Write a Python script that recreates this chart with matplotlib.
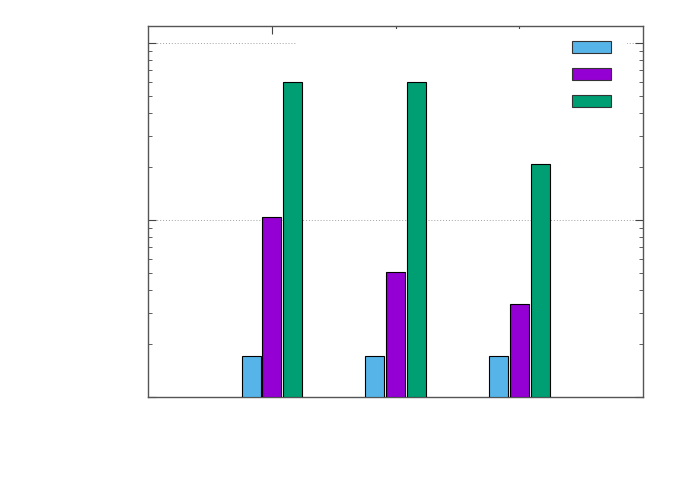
import numpy as np
import matplotlib.pyplot as plt
from matplotlib.patches import Patch, Rectangle

groups = [0, 1, 2]
series_a = [1.70, 1.70, 1.70]
series_b = [10.4, 5.09, 3.35]
series_c = [60.2, 60.2, 20.7]
colors = ["#56b4e9", "#9400d3", "#009e73"]

fig = plt.figure(figsize=(6.92, 4.85), dpi=100)
ax = fig.add_axes([148/692, 1 - 398/485, 495/692, 371/485])

ymin, ymax = 1.0, 10**2.096
x = np.array(groups)
w = 0.153
offs = [-0.167, 0.0, 0.169]
for vals, off, c in zip([series_a, series_b, series_c], offs, colors):
    ax.bar(x + off, np.array(vals) - ymin, width=w, bottom=ymin, color=c,
           edgecolor="black", linewidth=0.8, zorder=3)

ax.set_yscale("log")
ax.set_ylim(ymin, ymax)
ax.set_xlim(-1, 3)

ax.yaxis.grid(True, which="major", linestyle=(0, (1, 2)), color="#a0a0a0", linewidth=0.7, zorder=0.5)
ax.set_axisbelow(True)

# opaque key area hides the grid line
box = Rectangle(((296 - 148) / 495, (398 - 115) / 371), (627 - 296) / 495, (115 - 30) / 371,
                transform=ax.transAxes, facecolor="white", edgecolor="none", zorder=1)
ax.add_patch(box)

ax.tick_params(axis="y", which="both", direction="in", left=True, right=True,
               labelleft=False, color="#444444")
ax.tick_params(axis="y", which="major", length=6)
ax.tick_params(axis="y", which="minor", length=3)
ax.set_xticks(groups)
ax.tick_params(axis="x", direction="in", bottom=False, top=True, labelbottom=False,
               length=6, color="#444444")
ax.yaxis.set_minor_formatter(plt.NullFormatter())
ax.yaxis.set_major_formatter(plt.NullFormatter())
for s in ax.spines.values():
    s.set_color("#555555")
    s.set_linewidth(1.0)

handles = [Patch(facecolor=c, edgecolor="#333333", linewidth=0.8) for c in colors]
ax.legend(handles, ["", "", ""], loc="upper right", frameon=False,
          handlelength=2.8, handleheight=0.95, labelspacing=0.95,
          handletextpad=0.0, borderaxespad=0.0, bbox_to_anchor=(0.946, 0.975))

plt.savefig("out.png", dpi=100)
